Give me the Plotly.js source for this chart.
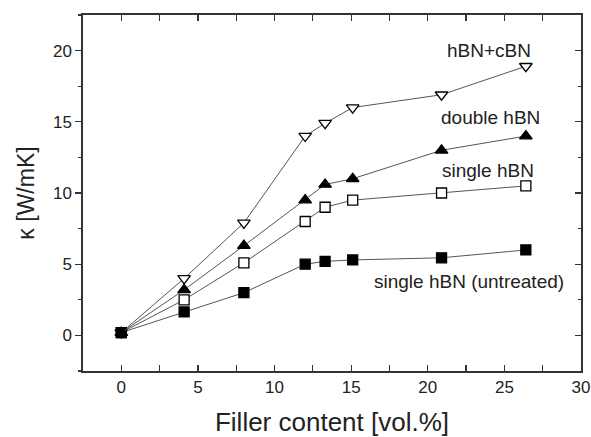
<!DOCTYPE html>
<html><head><meta charset="utf-8">
<script src="https://cdn.plot.ly/plotly-3.0.1.min.js"></script>
<style>html,body{margin:0;padding:0;background:#fff}#c{width:591px;height:437px}</style>
</head><body><div id="c"></div>
<script>
const fillerContent = [0, 4.1, 8, 12, 13.3, 15.1, 20.9, 26.4];
const hbnCbn = [0.2, 4.0, 7.9, 14.0, 14.9, 16.0, 16.9, 18.9];
const doubleHbn = [0.2, 3.2, 6.3, 9.5, 10.6, 11.0, 13.0, 14.0];
const singleHbn = [0.2, 2.5, 5.1, 8.0, 9.0, 9.5, 10.0, 10.5];
const untreatedHbn = [0.2, 1.65, 3.0, 5.0, 5.2, 5.3, 5.45, 6.0];
const seriesLabels = ["hBN+cBN", "double hBN", "single hBN", "single hBN (untreated)"];
const labelX = [24.0, 24.1, 23.9, 22.7];
const labelY = [20.0, 15.3, 11.6, 3.8];

const FONT = "Liberation Sans, Arial, sans-serif";
const lineStyle = {color: '#555', width: 1};
function tr(y, symbol, fill, size) {
  return {x: fillerContent, y: y, type: 'scatter', mode: 'lines+markers',
    line: lineStyle, cliponaxis: false,
    marker: {symbol: symbol, size: size, color: fill, line: {color: '#000', width: 1.3}}};
}
const data = [
  tr(singleHbn, 'square', '#fff', 10),
  tr(hbnCbn, 'triangle-down', '#fff', 11),
  tr(untreatedHbn, 'square', '#000', 10),
  tr(doubleHbn, 'triangle-up', '#000', 11),
  {x: [0], y: [0], yaxis: 'y2', type: 'scatter', mode: 'markers', marker: {opacity: 0}, hoverinfo: 'skip'}
];
const annotations = seriesLabels.map((t, i) => ({
  x: labelX[i], y: labelY[i], text: t, showarrow: false, xanchor: 'center', yanchor: 'middle',
  font: {family: FONT, size: 19, color: '#222'}
}));
const layout = {
  width: 591, height: 437,
  margin: {l: 83, r: 10, t: 15, b: 66},
  paper_bgcolor: '#fff', plot_bgcolor: '#fff',
  showlegend: false,
  font: {family: FONT, color: '#222'},
  xaxis: {range: [-2.5, 30], tickvals: [0, 5, 10, 15, 20, 25, 30], ticks: 'inside', ticklen: 6,
    tickwidth: 1.2, tickcolor: '#333', mirror: 'allticks', showline: true, linecolor: '#333', linewidth: 1.6,
    showgrid: false, zeroline: false, tickfont: {size: 17, color: '#222'},
    minor: {dtick: 2.5, tick0: 0, ticks: 'inside', ticklen: 3, tickcolor: '#333', showgrid: false},
    title: {text: 'Filler content [vol.%]', font: {size: 26, color: '#222'}, standoff: 18}},
  yaxis: {range: [-2.5, 22.5], tickvals: [0, 5, 10, 15, 20], ticks: 'outside', ticklen: 6,
    tickwidth: 1.2, tickcolor: '#333', mirror: true, showline: true, linecolor: '#333', linewidth: 1.6,
    showgrid: false, zeroline: false, tickfont: {size: 17, color: '#222'},
    minor: {dtick: 2.5, tick0: 0, ticks: 'outside', ticklen: 3, tickcolor: '#333', showgrid: false},
    title: {text: 'κ [W/mK]', font: {size: 23, color: '#222'}, standoff: 12}},
  yaxis2: {overlaying: 'y', side: 'right', range: [-2.5, 22.5], tickvals: [0, 5, 10, 15, 20],
    ticks: 'inside', ticklen: 6, tickwidth: 1.2, tickcolor: '#333', showticklabels: false,
    showgrid: false, zeroline: false, showline: false,
    minor: {dtick: 2.5, tick0: 0, ticks: 'inside', ticklen: 3, tickcolor: '#333', showgrid: false}},
  annotations: annotations
};
Plotly.newPlot('c', data, layout, {staticPlot: true});
</script></body></html>
